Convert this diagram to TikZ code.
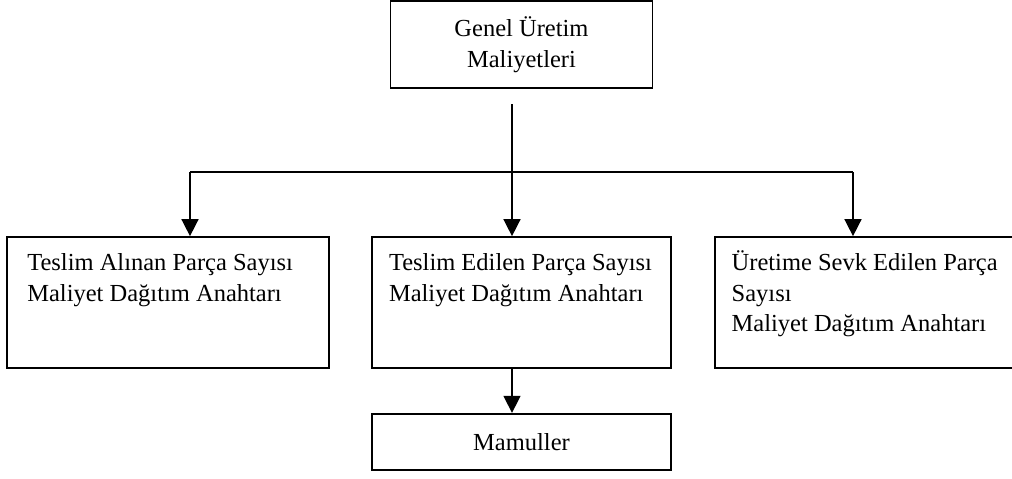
\documentclass[tikz,border=0pt]{standalone}
\usepackage{fontspec}
\setmainfont{Liberation Serif}
\usetikzlibrary{arrows.meta,positioning}

\begin{document}
\begin{tikzpicture}
[x=1pt, y=-1pt,
% STYLES
every node/.style={font=\fontsize{24.5}{30.5}\selectfont},
% The keybox style is used for the distribution key boxes
keybox/.style={rectangle, draw, line width=1.7pt, inner xsep=17pt, inner ysep=12.5pt},
% The totalbox style is used for the cost and product boxes
totalbox/.style={rectangle, draw, line width=1.7pt, inner sep=0pt, align=center},
link/.style={line width=1.5pt},
arrowdown/.style={-{Triangle[length=17pt,width=17pt]}}]

\useasboundingbox (0,0) rectangle (1012,479);

% Draw boxes
\node [keybox] (delivered) at (521.5,302.5) {\parbox[c][106pt][t]{265pt}{\strut Teslim Edilen Parça Sayısı\\ Maliyet Dağıtım Anahtarı}};
\node [keybox, inner xsep=20pt, left=41pt of delivered] (received) {\parbox[c][106pt][t]{282pt}{\strut Teslim Alınan Parça Sayısı\\ Maliyet Dağıtım Anahtarı}};
\node [keybox, inner xsep=17pt, right=42pt of delivered] (shipped) {\parbox[c][106pt][t]{269pt}{\strut Üretime Sevk Edilen Parça\\ Sayısı\\ Maliyet Dağıtım Anahtarı}};
\node [totalbox, minimum width=262pt, minimum height=87pt, above=147pt of delivered] (costs) {Genel Üretim\\ Maliyetleri};
\node [totalbox, minimum width=299pt, minimum height=56pt, below=44pt of delivered] (products) {Mamuller};

% Branch points
\coordinate (split) at (512,172);
\coordinate (jl) at (190,172);
\coordinate (jr) at (853,172);

% Draw the links between boxes
\draw [link] (jl) -- (jr);
\path [link, arrowdown]
    (split |- costs.south) edge [shorten <=15pt] (split |- delivered.north)
    (jl) edge (jl |- received.north)
    (jr) edge (jr |- shipped.north)
    (split |- delivered.south) edge (split |- products.north);

\end{tikzpicture}
\end{document}
